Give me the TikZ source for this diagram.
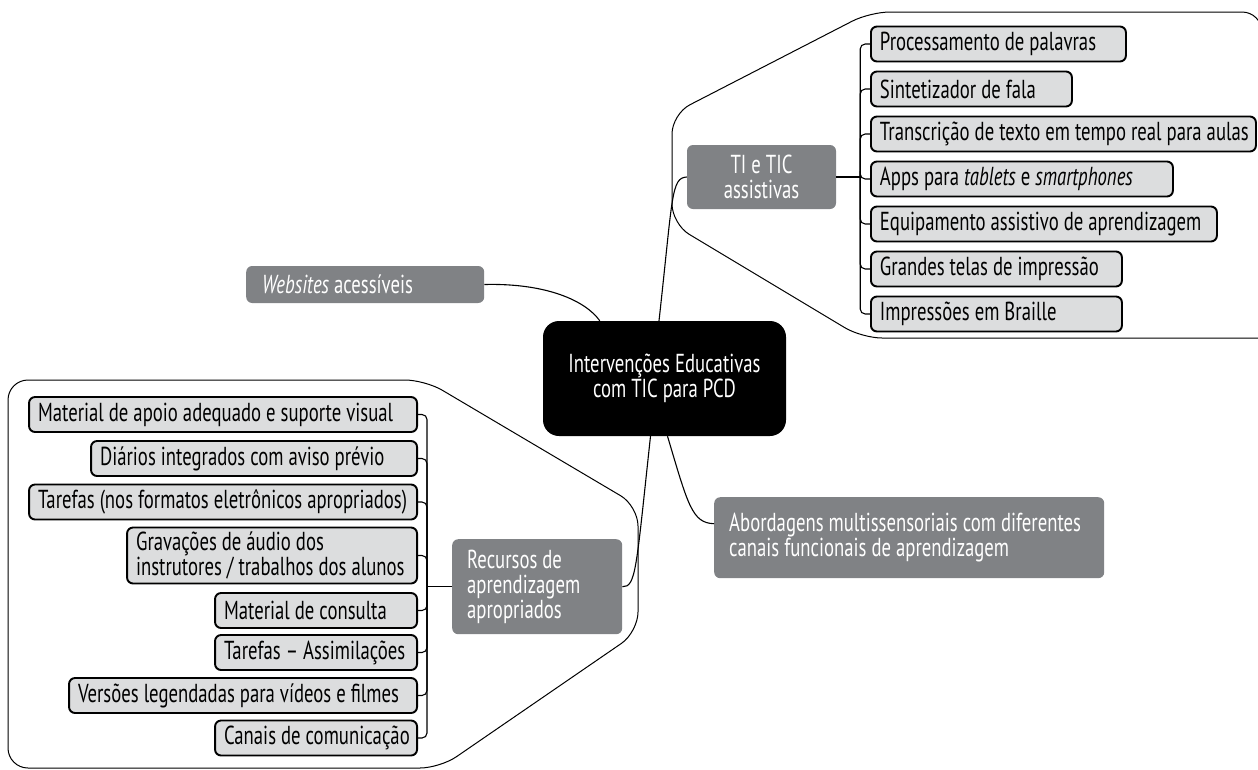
\documentclass[tikz,border=0pt]{standalone}
\usepackage{amsmath}
\usepackage{fontspec}
\setmainfont[FakeStretch=0.72]{PT Sans}
\usepackage{tikz}
\usetikzlibrary{calc}

\definecolor{leafgray}{RGB}{220,221,222}
\definecolor{hubgray}{RGB}{128,130,133}
\newcommand{\mapfont}{\fontsize{26}{25}\selectfont}

\tikzset{
  plain space/.style={execute at begin node={\spaceskip=0pt\xspaceskip=0pt}},
  leaf/.style={draw=black, line width=1.9pt, fill=leafgray, rounded corners=6pt, inner xsep=9pt, inner ysep=3pt, minimum height=35pt, align=left, text=black, plain space},
  hub/.style={fill=hubgray, rounded corners=6pt, text=white, inner ysep=0pt, plain space},
  link/.style={line width=1.1pt},
  frame/.style={line width=1pt, rounded corners=20pt}
}

\begin{document}
\begin{tikzpicture}[x=1pt,y=1pt,yscale=-1,xscale=1,font=\mapfont]
\useasboundingbox (0,0) rectangle (1258,769);
%Shape: Polygon
\draw[frame] (1300,338) -- (862,338) -- (672,224) -- (672,114) -- (870,12) -- (1262,12) -- (1262,60) ;
\draw[frame] (8,380) -- (425,380) -- (638,506) -- (638,632) -- (440,768) -- (8,768) -- cycle ;

%Rounded Rect
\node[fill=black, rounded corners=16pt, text=white, align=center, minimum width=243pt, minimum height=115pt] (ctr) at (664.5,378.5) {Intervenções Educativas\\com TIC para PCD};
\node[hub, align=center, minimum width=149pt, minimum height=64pt] (ti) at (761.5,177) {TI e TIC\\assistivas};
\node[hub, anchor=west, inner xsep=16pt, text width=206pt, minimum height=37pt, align=left] (web) at (246,284.5) {\mbox{\textit{Websites} acessíveis}};
\node[hub, anchor=north west, inner xsep=15pt, text width=140pt, minimum height=95pt, align=left] (rec) at (452,539) {Recursos de\\aprendizagem\\apropriados};
\node[hub, anchor=north west, inner xsep=15pt, text width=360pt, minimum height=81pt, align=left] (abd) at (714,497) {\mbox{Abordagens multissensoriais com diferentes}\\\mbox{canais funcionais de aprendizagem}};

%Right leaves
\node[leaf, anchor=west, text width=237pt] (pal) at (870,44) {\mbox{Processamento de palavras}};
\node[leaf, anchor=west, text width=183pt] (fal) at (870,89) {\mbox{Sintetizador de fala}};
\node[leaf, anchor=west, text width=367pt] (tra) at (870,134) {\mbox{Transcrição de texto em tempo real para aulas}};
\node[leaf, anchor=west, text width=284pt] (app) at (870,179) {\mbox{Apps para \textit{tablets} e \textit{smartphones}}};
\node[leaf, anchor=west, text width=328pt] (equ) at (870,224) {\mbox{Equipamento assistivo de aprendizagem}};
\node[leaf, anchor=west, text width=233pt] (gra) at (870,269) {\mbox{Grandes telas de impressão}};
\node[leaf, anchor=west, text width=233pt] (bra) at (870,314) {\mbox{Impressões em Braille}};

%Left leaves
\node[leaf, anchor=east, text width=370pt] (vis) at (418,414.5) {\mbox{Material de apoio adequado e suporte visual}};
\node[leaf, anchor=east, text width=308pt] (dia) at (418,458.5) {\mbox{Diários integrados com aviso prévio}};
\node[leaf, anchor=east, text width=370pt] (tar) at (418,502) {\mbox{Tarefas (nos formatos eletrônicos apropriados)}};
\node[leaf, anchor=east, text width=272pt, minimum height=56pt] (aud) at (418,555.5) {\mbox{Gravações de áudio dos}\\\mbox{instrutores / trabalhos dos alunos}};
\node[leaf, anchor=east, text width=184pt] (con) at (418,610.5) {\mbox{Material de consulta}};
\node[leaf, anchor=east, text width=184pt] (ass) at (418,652.5) {\mbox{Tarefas -- Assimilações}};
\node[leaf, anchor=east, text width=330pt] (leg) at (418,695.5) {\mbox{Versões legendadas para vídeos e filmes}};
\node[leaf, anchor=east, text width=184pt] (can) at (418,738) {\mbox{Canais de comunicação}};

%Straight Lines
\coordinate (tispine) at ($(ti.east)+(24,0)$);
\coordinate (recspine) at ($(rec.west)+(-25,0)$);
\draw[link] (ti.east) -- (tispine) ;
\draw[link] (rec.west) -- (recspine) ;
\foreach \n in {pal,fal,tra,app,equ,gra,bra}
  \draw[link, rounded corners=5pt] (tispine) |- (\n.west) ;
\foreach \n in {vis,dia,tar,aud,con,ass,leg,can}
  \draw[link, rounded corners=5pt] (recspine) |- (\n.east) ;

%Curve Lines
\draw[link] ($(ctr.north)+(-5.5,0)$) .. controls (673,195) and (671,178) .. (ti.west) ;
\draw[link] (web.east) .. controls (545,283) and (585,300) .. ($(ctr.north west)+(57,0)$) ;
\draw[link] ($(ctr.south)+(-14,0)$) .. controls (636,570) and (636,587) .. (rec.east) ;
\draw[link] ($(ctr.south)+(3,0)$) .. controls (688,505) and (692,523) .. ($(abd.west)+(0,-14)$) ;
\end{tikzpicture}
\end{document}
